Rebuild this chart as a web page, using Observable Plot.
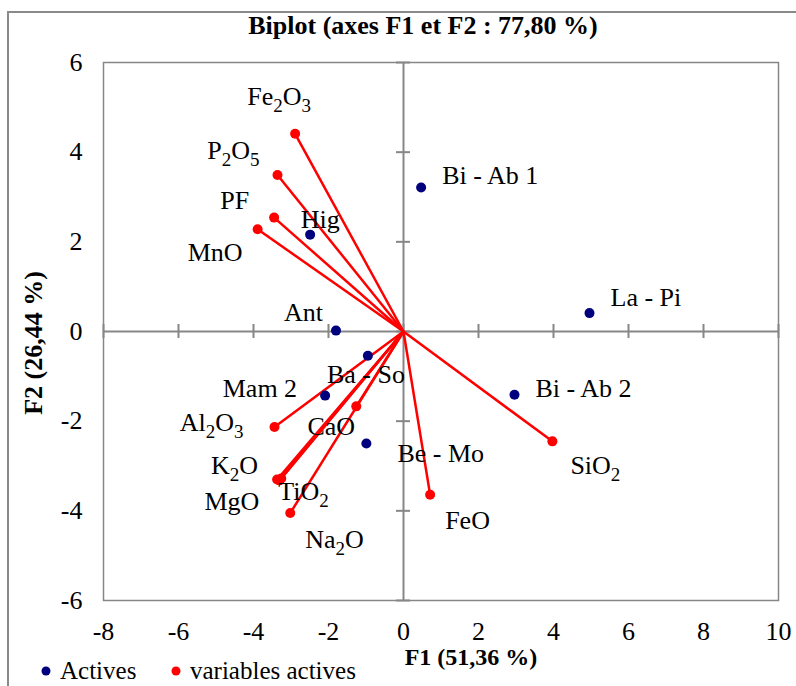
<!DOCTYPE html>
<html>
<head>
<meta charset="utf-8">
<script src="https://cdn.jsdelivr.net/npm/d3@7"></script>
<script src="https://cdn.jsdelivr.net/npm/@observablehq/plot@0.6"></script>
<style>
  html, body { margin: 0; padding: 0; background: #fff; overflow: hidden; }
  #chart { position: relative; width: 796px; height: 686px; overflow: hidden; font-family: "Liberation Serif", "Times New Roman", serif; }
  #frame { position: absolute; left: 7px; top: 11px; width: 900px; height: 900px; border: 2px solid #8a8a8a; box-sizing: border-box; pointer-events: none; }
  #plot, #overlay { position: absolute; left: 0; top: 0; }
</style>
</head>
<body>
<div id="chart">
  <div id="frame"></div>
  <div id="plot"></div>
  <svg id="overlay" width="796" height="686" font-family="Liberation Serif, Times New Roman, serif"></svg>
</div>
<script>
// Observations (individuals) on the first factorial plane
const obsNames = ["Bi - Ab 1", "Hig", "La - Pi", "Ant", "Ba - So", "Mam 2", "Bi - Ab 2", "Be - Mo"];
const obsF1 = [0.47, -2.49, 4.96, -1.80, -0.95, -2.09, 2.96, -0.99];
const obsF2 = [3.21, 2.16, 0.41, 0.02, -0.54, -1.43, -1.41, -2.50];

// Active variables (loadings drawn as vectors from the origin)
const varNames = ["Fe2O3", "P2O5", "PF", "MnO", "SiO2", "FeO", "Al2O3", "CaO", "K2O", "MgO", "TiO2", "Na2O"];
const varF1 = [-2.89, -3.36, -3.45, -3.89, 3.97, 0.71, -3.44, -1.26, -3.37, -3.31, -3.26, -3.02];
const varF2 = [4.41, 3.49, 2.54, 2.28, -2.45, -3.64, -2.13, -1.67, -3.30, -3.32, -3.28, -4.05];

const xTicks = [-8, -6, -4, -2, 0, 2, 4, 6, 8, 10];
const yTicks = [-6, -4, -2, 0, 2, 4, 6];

const titleText = "Biplot (axes F1 et F2 : 77,80 %)";
const xTitle = "F1 (51,36 %)";
const yTitle = "F2 (26,44 %)";
const legendLabels = ["Actives", "variables actives"];

const obsColor = "#00007f";
const varColor = "#ff0000";
const axisGray = "#878787";

const obs = obsNames.map((name, i) => ({name, x: obsF1[i], y: obsF2[i]}));
const vars = varNames.map((name, i) => ({name, x: varF1[i], y: varF2[i]}));

// Label placement: [textAnchor, dx, dy] in pixels around each point
const obsPlace = {
  "Bi - Ab 1": ["start", 21, -12],
  "Hig": ["middle", 10, -15],
  "La - Pi": ["start", 21, -15],
  "Ant": ["end", -13, -18],
  "Ba - So": ["middle", -2, 19],
  "Mam 2": ["end", -28, -7],
  "Bi - Ab 2": ["start", 21, -6],
  "Be - Mo": ["start", 31, 10]
};
const varPlace = {
  "Fe2O3": ["middle", -16, -37],
  "P2O5": ["end", -18, -24],
  "PF": ["end", -25, -17],
  "MnO": ["end", -15, 23],
  "SiO2": ["start", 18, 24],
  "FeO": ["start", 15, 26],
  "Al2O3": ["end", -31, -4],
  "CaO": ["middle", -25, 20],
  "K2O": ["end", -19, -14],
  "MgO": ["end", -20, 21],
  "TiO2": ["start", -3, 13],
  "Na2O": ["start", 15, 27]
};

const labelMarks = (rows, place, cls) => rows.map(d => {
  const [anchor, dx, dy] = place[d.name];
  return Plot.text([d], {x: "x", y: "y", text: "name", textAnchor: anchor, dx, dy,
    fontSize: 26, fill: "#000", className: cls});
});

const chart = Plot.plot({
  width: 796,
  height: 686,
  marginLeft: 103,
  marginRight: 18,
  marginTop: 62,
  marginBottom: 86,
  style: {fontFamily: "Liberation Serif, Times New Roman, serif", fontSize: "26px", background: "transparent", overflow: "visible"},
  x: {domain: [-8, 10]},
  y: {domain: [-6, 6]},
  marks: [
    Plot.frame({stroke: axisGray, strokeWidth: 1.5}),
    Plot.axisX({ticks: xTicks, tickSize: 0, tickPadding: 21, tickFormat: d => String(d), fontSize: 26, label: null}),
    Plot.axisY({ticks: yTicks, tickSize: 0, tickPadding: 21, tickFormat: d => String(d), fontSize: 26, label: null}),
    Plot.ruleX([0], {stroke: axisGray, strokeWidth: 2}),
    Plot.ruleY([0], {stroke: axisGray, strokeWidth: 2}),
    Plot.ruleY(yTicks, {y: d => d, x1: 0, x2: 0, insetLeft: -7, insetRight: -7, stroke: axisGray, strokeWidth: 2}),
    Plot.ruleX(xTicks, {x: d => d, y1: 0, y2: 0, insetTop: -7, insetBottom: -7, stroke: axisGray, strokeWidth: 2}),
    Plot.link(vars, {x1: 0, y1: 0, x2: "x", y2: "y", stroke: varColor, strokeWidth: 2.5}),
    Plot.dot(vars, {x: "x", y: "y", r: 5, fill: varColor}),
    Plot.dot(obs, {x: "x", y: "y", r: 5, fill: obsColor}),
    ...labelMarks(obs, obsPlace, "obs-label"),
    ...labelMarks(vars, varPlace, "formula")
  ]
});
document.getElementById("plot").appendChild(chart);

// Chemical formulas: turn digits into subscripts
d3.select(chart).selectAll("g.formula text").each(function () {
  const s = this.textContent;
  const t = d3.select(this);
  t.text(null);
  const parts = s.match(/(\d+|\D+)/g);
  let shifted = false;
  parts.forEach(p => {
    const isSub = /\d/.test(p);
    const span = t.append("tspan").text(p);
    if (isSub) { span.attr("dy", "7").attr("font-size", 19); shifted = true; }
    else if (shifted) { span.attr("dy", "-7"); shifted = false; }
  });
});

// Title, axis titles and legend
const ov = d3.select("#overlay");
ov.append("text").attr("x", 423).attr("y", 34).attr("text-anchor", "middle")
  .attr("font-size", 26).attr("font-weight", "bold").text(titleText);
ov.append("text").attr("x", 471).attr("y", 665).attr("text-anchor", "middle")
  .attr("font-size", 24).attr("font-weight", "bold").text(xTitle);
ov.append("text").attr("transform", "translate(42,343) rotate(-90)").attr("text-anchor", "middle")
  .attr("font-size", 26).attr("font-weight", "bold").text(yTitle);
const legendColors = [obsColor, varColor];
const legendX = [46, 176];
legendLabels.forEach((lab, i) => {
  ov.append("circle").attr("cx", legendX[i]).attr("cy", 671).attr("r", 4.5).attr("fill", legendColors[i]);
  ov.append("text").attr("x", legendX[i] + 14).attr("y", 679).attr("font-size", 25).text(lab);
});
</script>
</body>
</html>
